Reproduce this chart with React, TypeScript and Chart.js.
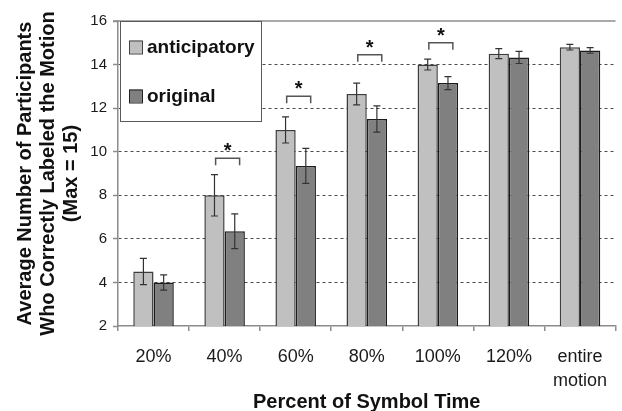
import React, { useEffect, useRef } from "react";
import { Chart, registerables } from "chart.js";

Chart.register(...registerables);

const categories: (string | string[])[] = ["20%", "40%", "60%", "80%", "100%", "120%", ["entire", "motion"]];
const anticipatory = [4.5, 8.0, 11.0, 12.65, 14.0, 14.5, 14.8];
const anticipatoryErr = [0.6, 0.95, 0.6, 0.5, 0.25, 0.23, 0.13];
const original = [4.0, 6.35, 9.35, 11.5, 13.15, 14.33, 14.65];
const originalErr = [0.35, 0.8, 0.8, 0.6, 0.3, 0.28, 0.13];
const significance: (number | null)[] = [null, 9.7, 12.55, 14.45, 15.0, null, null];
const yTitle = ["Average Number of Participants", "Who Correctly Labeled the Motion", "(Max = 15)"];
const xTitle = "Percent of Symbol Time";
const seriesNames = ["anticipatory", "original"];

const FONT = "'Liberation Sans', Arial, sans-serif";
const antFill = "#c0c0c0";
const antBorder = "#3c3c3c";
const origFill = "#808080";
const origBorder = "#1c1c1c";

const extrasPlugin = {
  id: "extras",
  afterDatasetsDraw(chart: any) {
    const ctx = chart.ctx as CanvasRenderingContext2D;
    const ys = chart.scales.y;
    const xs = chart.scales.x;
    const area = chart.chartArea;
    const errs = [anticipatoryErr, originalErr];
    const vals = [anticipatory, original];
    ctx.save();
    // top solid line
    ctx.strokeStyle = "#8c8c8c";
    ctx.lineWidth = 1.5;
    ctx.beginPath();
    ctx.moveTo(area.left - 5, area.top);
    ctx.lineTo(area.right, area.top);
    ctx.stroke();
    // error bars
    ctx.strokeStyle = "#333";
    ctx.lineWidth = 1.2;
    for (let d = 0; d < 2; d++) {
      const meta = chart.getDatasetMeta(d);
      meta.data.forEach((el: any, i: number) => {
        const x = el.x;
        const hi = ys.getPixelForValue(vals[d][i] + errs[d][i]);
        const lo = ys.getPixelForValue(vals[d][i] - errs[d][i]);
        ctx.beginPath();
        ctx.moveTo(x, hi);
        ctx.lineTo(x, lo);
        ctx.moveTo(x - 3.5, hi);
        ctx.lineTo(x + 3.5, hi);
        ctx.moveTo(x - 3.5, lo);
        ctx.lineTo(x + 3.5, lo);
        ctx.stroke();
      });
    }
    // significance brackets
    significance.forEach((lvl, i) => {
      if (lvl == null) return;
      const c = xs.getPixelForValue(i);
      const y = ys.getPixelForValue(lvl);
      ctx.strokeStyle = "#555";
      ctx.lineWidth = 1.5;
      ctx.beginPath();
      ctx.moveTo(c - 9, y + 7);
      ctx.lineTo(c - 9, y);
      ctx.lineTo(c + 15, y);
      ctx.lineTo(c + 15, y + 7);
      ctx.stroke();
      ctx.fillStyle = "#111";
      ctx.font = `bold 20px ${FONT}`;
      ctx.textAlign = "center";
      ctx.textBaseline = "alphabetic";
      ctx.fillText("*", c + 3, y - 1);
    });
    // legend box
    const lx = area.left + 2;
    const ly = area.top;
    ctx.fillStyle = "#fff";
    ctx.fillRect(lx, ly, 141, 100);
    ctx.strokeStyle = "#5a5a5a";
    ctx.lineWidth = 1;
    ctx.strokeRect(lx + 0.5, ly + 0.5, 141, 100);
    const fills = [antFill, origFill];
    const borders = ["#444", "#222"];
    const rows = [47, 96];
    ctx.font = `bold 19px ${FONT}`;
    ctx.textAlign = "left";
    ctx.textBaseline = "middle";
    for (let k = 0; k < 2; k++) {
      const cy = rows[k];
      ctx.fillStyle = fills[k];
      ctx.fillRect(lx + 9, cy - 6.5, 13, 13);
      ctx.strokeStyle = borders[k];
      ctx.lineWidth = 1;
      ctx.strokeRect(lx + 9.5, cy - 6, 13, 13);
      ctx.fillStyle = "#111";
      ctx.fillText(seriesNames[k], lx + 27, cy + 1);
    }
    ctx.restore();
  },
};

export default function App() {
  const ref = useRef<HTMLCanvasElement>(null);
  useEffect(() => {
    document.body.style.margin = "0";
    const canvas = ref.current!;
    const chart = new Chart(canvas, {
      type: "bar",
      data: {
        labels: categories as any,
        datasets: [
          {
            label: seriesNames[0],
            data: anticipatory,
            backgroundColor: antFill,
            borderColor: antBorder,
            borderWidth: 1.5,
          },
          {
            label: seriesNames[1],
            data: original,
            backgroundColor: origFill,
            borderColor: origBorder,
            borderWidth: 1.5,
          },
        ],
      },
      options: {
        animation: false,
        responsive: true,
        maintainAspectRatio: false,
        layout: { padding: { top: 21, left: 0, right: 0, bottom: 0 } },
        datasets: { bar: { categoryPercentage: 0.57, barPercentage: 1 } },
        plugins: { legend: { display: false }, tooltip: { enabled: false } },
        scales: {
          x: {
            grid: {
              offset: true,
              drawOnChartArea: false,
              drawTicks: true,
              tickLength: 5,
              color: "#8c8c8c",
              lineWidth: 1.5,
            },
            border: { color: "#8c8c8c", width: 1.5 },
            ticks: {
              font: { size: 18, family: FONT, lineHeight: 1.28 },
              color: "#1a1a1a",
              padding: 15,
              maxRotation: 0,
              autoSkip: false,
            },
            title: {
              display: true,
              text: xTitle,
              color: "#111",
              font: { size: 20, weight: "bold", family: FONT, lineHeight: 0.9 },
              padding: { top: 0, bottom: 0 },
            },
            afterFit: (s: any) => {
              s.height = 85;
            },
          },
          y: {
            min: 2,
            max: 16,
            ticks: {
              stepSize: 2,
              font: { size: 15, family: FONT },
              color: "#1a1a1a",
              padding: 6,
            },
            grid: {
              color: (c: any) =>
                c.tick && (c.tick.value === 16 || c.tick.value === 2) ? "rgba(0,0,0,0)" : "#4a4a4a",
              tickColor: "#8c8c8c",
              tickLength: 5,
              tickWidth: 1.5,
              tickBorderDash: [],
              lineWidth: 1,
            },
            border: { color: "#8c8c8c", width: 1.5, dash: [3, 3] },
            title: {
              display: true,
              text: yTitle,
              color: "#111",
              font: { size: 20, weight: "bold", family: FONT, lineHeight: 1.14 },
              padding: { top: 14, bottom: 0 },
            },
            afterFit: (s: any) => {
              s.width = 118;
            },
          },
        },
      },
      plugins: [extrasPlugin],
    } as any);
    return () => chart.destroy();
  }, []);
  return (
    <div style={{ width: 622, height: 411, position: "relative" }}>
      <canvas ref={ref} />
    </div>
  );
}
